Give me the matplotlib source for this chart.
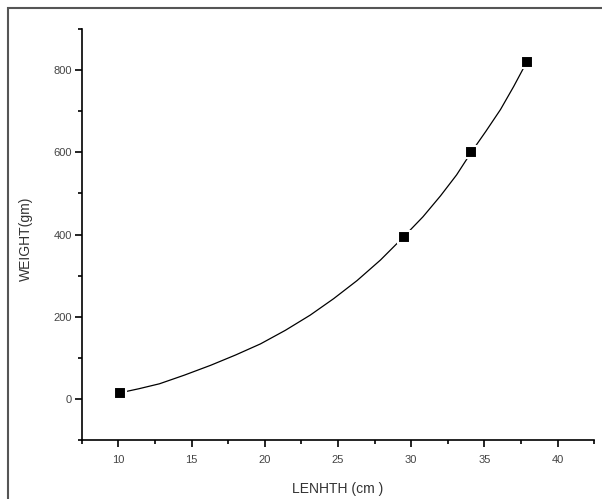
import matplotlib
matplotlib.use('Agg')
import matplotlib.pyplot as plt
from matplotlib.ticker import MultipleLocator
from matplotlib.patches import Rectangle

plt.rcParams['font.family'] = ['Liberation Sans', 'DejaVu Sans']

# measured points
length = [10.1, 29.5, 34.1, 37.9]
weight = [15, 395, 600, 820]

# points
curve_x = [10.1, 11.4, 12.8, 14.5, 16.3, 18.0, 19.7, 21.4, 23.1, 24.7, 26.3, 27.9,
           29.5, 30.8, 32.0, 33.1, 34.1, 35.1, 36.1, 37.0, 37.9]
curve_y = [15, 25, 37, 58, 82, 107, 134, 167, 204, 244, 288, 338,
           395, 443, 494, 545, 600, 651, 704, 760, 820]

fig = plt.figure(figsize=(6.02, 4.99), dpi=100)
ax = fig.add_axes([0.136, 0.118, 0.851, 0.824])

# outer frame of the figure
fig.patches.append(Rectangle((8 / 602, -0.1), 1.2, (491 + 50) / 499,
                             transform=fig.transFigure, fill=False,
                             edgecolor='#555555', linewidth=1.5))

ax.plot(curve_x, curve_y, color='black', linewidth=0.9, zorder=2)
ax.plot(length, weight, linestyle='none', marker='s', markersize=8,
        markerfacecolor='black', markeredgecolor='white', markeredgewidth=1.5, zorder=3)

ax.set_xlim(7.5, 42.5)
ax.set_ylim(-100, 900)
ax.xaxis.set_major_locator(MultipleLocator(5))
ax.xaxis.set_minor_locator(MultipleLocator(2.5))
ax.yaxis.set_major_locator(MultipleLocator(200))
ax.yaxis.set_minor_locator(MultipleLocator(100))

for side in ['top', 'right']:
    ax.spines[side].set_visible(False)
for side in ['left', 'bottom']:
    ax.spines[side].set_linewidth(1.2)

ax.tick_params(which='major', direction='out', length=5, width=1.2,
               labelsize=8, labelcolor='#444444')
ax.tick_params(axis='y', which='major', pad=2)
ax.tick_params(axis='x', which='major', pad=6)
ax.tick_params(which='minor', direction='out', length=3, width=1.2)

ax.set_xlabel('LENHTH (cm )', fontsize=10, color='#333333', labelpad=12)
ax.set_ylabel('WEIGHT(gm)', fontsize=10, color='#333333')
ax.yaxis.set_label_coords(-0.096, 0.49)

plt.savefig('out.png', dpi=100)
